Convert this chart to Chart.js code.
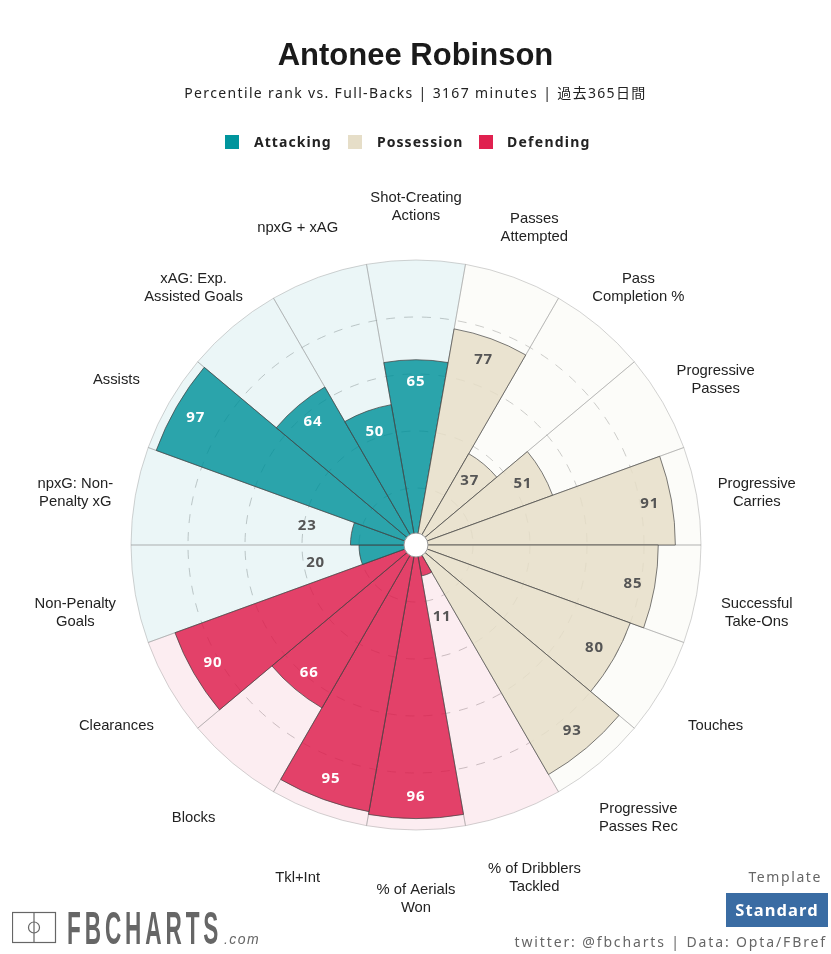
<!DOCTYPE html>
<html><head><meta charset="utf-8">
<style>
html,body{margin:0;padding:0;background:#fff;overflow:hidden;width:831px;height:954px}
#wrap{position:relative;width:831px;height:954px}
canvas{position:absolute;left:0;top:0}
.t{position:absolute;white-space:nowrap;font-family:"Noto Sans","Noto Sans CJK JP",sans-serif;color:#222}
.sq{position:absolute;width:14px;height:14px;top:135px}
</style></head><body><div id="wrap">
<canvas id="c" width="831" height="954"></canvas>
<div class="t" style="left:0;width:831px;text-align:center;top:37px;font:bold 31px 'Liberation Sans';color:#1a1a1a;">Antonee Robinson</div>
<div class="t" style="left:0;width:831px;text-align:center;top:82px;font-size:14px;letter-spacing:1.35px;">Percentile rank vs. Full-Backs | 3167 minutes | 過去365日間</div>
<div class="sq" style="left:225px;background:#00959d"></div>
<div class="t" style="left:254px;top:132px;font-size:14px;font-weight:700;letter-spacing:1.05px">Attacking</div>
<div class="sq" style="left:348px;background:#e6dec8"></div>
<div class="t" style="left:377px;top:132px;font-size:14px;font-weight:700;letter-spacing:1.05px">Possession</div>
<div class="sq" style="left:479px;background:#e0214f"></div>
<div class="t" style="left:507px;top:132px;font-size:14px;font-weight:700;letter-spacing:1.25px">Defending</div>
<svg style="position:absolute;left:12px;top:911px" width="46" height="34"><rect x="0.5" y="1.5" width="43" height="30" fill="none" stroke="#666" stroke-width="1.2"/><line x1="22" y1="1.5" x2="22" y2="31.5" stroke="#666" stroke-width="1.2"/><circle cx="22" cy="16.5" r="5.5" fill="none" stroke="#666" stroke-width="1.2"/></svg>
<div class="t" style="left:67px;top:901px;font:bold 46px 'Liberation Sans';color:#666;letter-spacing:8px;transform:scaleX(.49);transform-origin:left top">FBCHARTS</div>
<div class="t" style="left:224px;top:931px;font:italic 14px 'Liberation Sans';color:#666;letter-spacing:1.4px">.com</div>
<div class="t" style="right:9px;top:867px;font-size:14px;letter-spacing:1.6px;color:#666">Template</div>
<div class="t" style="left:726px;top:893px;width:102px;height:34px;line-height:34px;text-align:center;background:#3a6ca3;color:#fff;font-size:16.5px;font-weight:700;letter-spacing:1.1px">Standard</div>
<div class="t" style="right:4px;top:932px;font-size:14px;letter-spacing:1.87px;color:#666">twitter: @fbcharts | Data: Opta/FBref</div>
</div>
<script src="https://cdn.jsdelivr.net/npm/chart.js@4/dist/chart.umd.min.js"></script>
<script>
const categories = [
  ["Shot-Creating","Actions"],["Passes","Attempted"],["Pass","Completion %"],["Progressive","Passes"],
  ["Progressive","Carries"],["Successful","Take-Ons"],["Touches"],["Progressive","Passes Rec"],
  ["% of Dribblers","Tackled"],["% of Aerials","Won"],["Tkl+Int"],["Blocks"],["Clearances"],
  ["Non-Penalty","Goals"],["npxG: Non-","Penalty xG"],["Assists"],["xAG: Exp.","Assisted Goals"],["npxG + xAG"]
];
const percentiles = [65,77,37,51,91,85,80,93,11,96,95,66,90,20,23,97,64,50];
const groups = ["A","P","P","P","P","P","P","P","D","D","D","D","D","A","A","A","A","A"];
const fullScale = [100,100,100,100,100,100,100,100,100,100,100,100,100,100,100,100,100,100];
const solid = {A:"rgba(0,145,154,0.82)",P:"rgba(230,222,200,0.85)",D:"rgba(221,27,74,0.82)"};
const pale  = {A:"rgba(0,145,154,0.08)",P:"rgba(230,222,200,0.10)",D:"rgba(221,27,74,0.08)"};
const edge  = {A:"rgba(70,70,70,0.75)",P:"rgba(70,70,70,0.7)",D:"rgba(70,70,70,0.75)"};

const labelPlugin = {
  id:"labels",
  afterDatasetsDraw(chart){
    const s = chart.scales.r, ctx = chart.ctx, half = Math.PI/categories.length;
    ctx.save();
    ctx.beginPath();
    ctx.arc(s.xCenter,s.yCenter,12,0,Math.PI*2);
    ctx.fillStyle="#fff";ctx.fill();
    ctx.lineWidth=1;ctx.strokeStyle="#999";ctx.stroke();
    ctx.textAlign="center";ctx.textBaseline="middle";
    ctx.font='14.8px "Liberation Sans"';ctx.fillStyle="#222";
    categories.forEach((lines,i)=>{
      const p = s.getPointPosition(i,346,half);
      lines.forEach((l,k)=>ctx.fillText(l,p.x,p.y+8+(k-(lines.length-1)/2)*18.5));
    });
    ctx.font='bold 15px "Noto Sans"';
    ctx.letterSpacing="0.8px";
    percentiles.forEach((v,i)=>{
      const low = v<30, r = s.getDistanceFromCenterForValue(v)+(low?45:-22);
      const p = s.getPointPosition(i,r,half);
      ctx.fillStyle = (low||groups[i]==="P") ? "#555" : "#fff";
      ctx.fillText(String(v),p.x,p.y);
    });
    ctx.restore();
  }
};

new Chart(document.getElementById("c"),{
  type:"polarArea",
  data:{labels:categories,datasets:[
    {data:percentiles,backgroundColor:groups.map(g=>solid[g]),borderColor:groups.map(g=>edge[g]),borderWidth:1},
    {data:fullScale,backgroundColor:groups.map(g=>pale[g]),borderColor:"rgba(150,150,150,0.42)",borderWidth:1}
  ]},
  plugins:[labelPlugin],
  options:{
    responsive:false,animation:false,
    layout:{padding:{left:1,right:0,top:260,bottom:124}},
    plugins:{legend:{display:false},tooltip:{enabled:false}},
    events:[],
    scales:{r:{
      min:0,max:100,startAngle:-10,
      ticks:{display:false,stepSize:20},
      pointLabels:{display:false},
      angleLines:{display:false},
      border:{dash:[9,9]},
      grid:{circular:true,color:c=>c.tick&&c.tick.value===100?"rgba(0,0,0,0)":"rgba(150,150,150,0.5)",lineWidth:1}
    }}
  }
});
</script></body></html>
